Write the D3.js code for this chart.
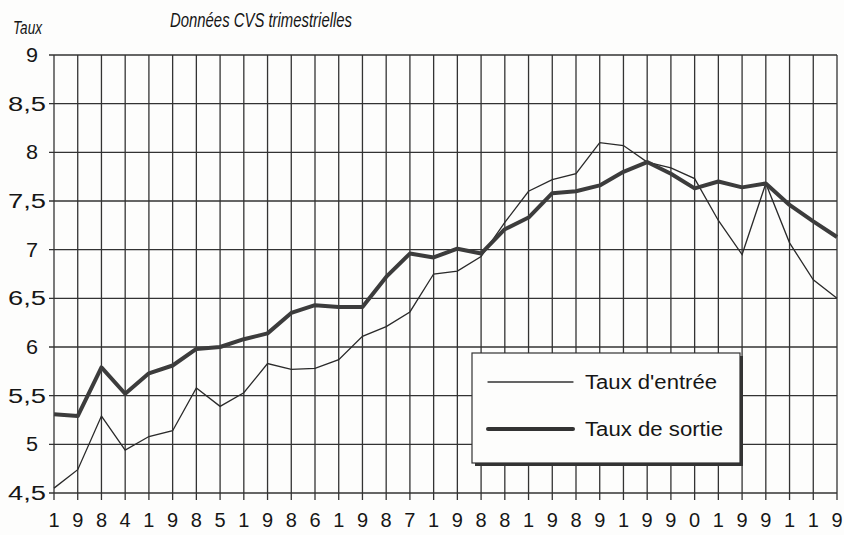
<!DOCTYPE html>
<html>
<head>
<meta charset="utf-8">
<script src="https://cdn.jsdelivr.net/npm/d3@7"></script>
<style>
  body { margin: 0; background: #fdfdfc; }
  svg { display: block; font-family: "Liberation Sans", Arial, sans-serif; }
</style>
</head>
<body>
<svg width="844" height="535"></svg>
<script>
// Digits written under each quarter (1984 Q1 .. 1992 Q2)
const tickDigits = ["1","9","8","4","1","9","8","5","1","9","8","6","1","9","8","7",
                    "1","9","8","8","1","9","8","9","1","9","9","0","1","9","9","1","1","9"];
const yTicks = [4.5, 5, 5.5, 6, 6.5, 7, 7.5, 8, 8.5, 9];

// Taux d'entrée (thin line)
const entree = [4.55, 4.74, 5.29, 4.94, 5.08, 5.14, 5.58, 5.39, 5.53, 5.83,
                5.77, 5.78, 5.87, 6.11, 6.21, 6.36, 6.75, 6.78, 6.93, 7.28,
                7.60, 7.72, 7.78, 8.10, 8.07, 7.90, 7.84, 7.73, 7.30, 6.95,
                7.68, 7.07, 6.69, 6.50];
// Taux de sortie (thick line)
const sortie = [5.31, 5.29, 5.79, 5.52, 5.73, 5.81, 5.98, 6.00, 6.08, 6.14,
                6.35, 6.43, 6.41, 6.41, 6.72, 6.96, 6.92, 7.01, 6.96, 7.21,
                7.33, 7.58, 7.60, 7.66, 7.80, 7.90, 7.78, 7.63, 7.70, 7.64,
                7.68, 7.46, 7.29, 7.13];

const ink = "#333";
const textInk = "#161616";
const svg = d3.select("svg");

const x = d3.scaleLinear().domain([0, tickDigits.length - 1]).range([54, 837]);
const y = d3.scaleLinear().domain([4.5, 9]).range([493, 55]);

// Grid
const grid = svg.append("g").attr("stroke", ink).attr("stroke-width", 1.3);
grid.selectAll("line.h")
    .data(yTicks)
    .join("line")
    .attr("class", "h")
    .attr("x1", x(0) - 5).attr("x2", x.range()[1])
    .attr("y1", d => y(d)).attr("y2", d => y(d));
grid.selectAll("line.v")
    .data(tickDigits)
    .join("line")
    .attr("class", "v")
    .attr("x1", (d, i) => x(i)).attr("x2", (d, i) => x(i))
    .attr("y1", y(9)).attr("y2", y(4.5) + 7);

// Y labels (comma decimal, wide glyphs like the original)
svg.append("g")
    .selectAll("text")
    .data(yTicks)
    .join("text")
    .attr("x", d => Number.isInteger(d) ? 26 : 8)
    .attr("y", d => y(d) + 7)
    .attr("font-size", 20)
    .attr("fill", textInk)
    .attr("textLength", d => Number.isInteger(d) ? 12 : 38)
    .attr("lengthAdjust", "spacingAndGlyphs")
    .text(d => String(d).replace(".", ","));

// X labels: one digit per quarter
svg.append("g")
    .selectAll("text")
    .data(tickDigits)
    .join("text")
    .attr("x", (d, i) => x(i))
    .attr("y", 527)
    .attr("text-anchor", "middle")
    .attr("font-size", 20)
    .attr("fill", textInk)
    .text(d => d);

// Lines
const line = d3.line().x((d, i) => x(i)).y(d => y(d));
svg.append("path")
    .datum(entree)
    .attr("fill", "none")
    .attr("stroke", "#2a2a2a")
    .attr("stroke-width", 1.3)
    .attr("d", line);
svg.append("path")
    .datum(sortie)
    .attr("fill", "none")
    .attr("stroke", "#3c3c3c")
    .attr("stroke-width", 4)
    .attr("stroke-linejoin", "round")
    .attr("d", line);

// Titles
svg.append("text")
    .attr("x", 170).attr("y", 27)
    .attr("font-size", 21)
    .attr("font-style", "italic")
    .attr("fill", textInk)
    .attr("textLength", 182)
    .attr("lengthAdjust", "spacingAndGlyphs")
    .text("Données CVS trimestrielles");
svg.append("text")
    .attr("x", 13).attr("y", 34)
    .attr("font-size", 19)
    .attr("font-style", "italic")
    .attr("fill", textInk)
    .attr("textLength", 29)
    .attr("lengthAdjust", "spacingAndGlyphs")
    .text("Taux");

// Legend
const lg = svg.append("g").attr("transform", "translate(472,353)");
lg.append("rect").attr("x", 3).attr("y", 3).attr("width", 268).attr("height", 110).attr("fill", ink);
lg.append("rect").attr("width", 268).attr("height", 110)
    .attr("fill", "#fdfdfc").attr("stroke", ink).attr("stroke-width", 1.2);
const items = [
    { label: "Taux d'entrée", w: 1.3, yy: 29, len: 132 },
    { label: "Taux de sortie", w: 4, yy: 76, len: 138 }
];
items.forEach(it => {
    lg.append("line")
        .attr("x1", 16).attr("x2", 101)
        .attr("y1", it.yy).attr("y2", it.yy)
        .attr("stroke", "#333").attr("stroke-width", it.w)
        .attr("stroke-linecap", "round");
    lg.append("text")
        .attr("x", 113).attr("y", it.yy + 7)
        .attr("font-size", 20)
        .attr("fill", textInk)
        .attr("textLength", it.len)
        .attr("lengthAdjust", "spacingAndGlyphs")
        .text(it.label);
});
</script>
</body>
</html>
